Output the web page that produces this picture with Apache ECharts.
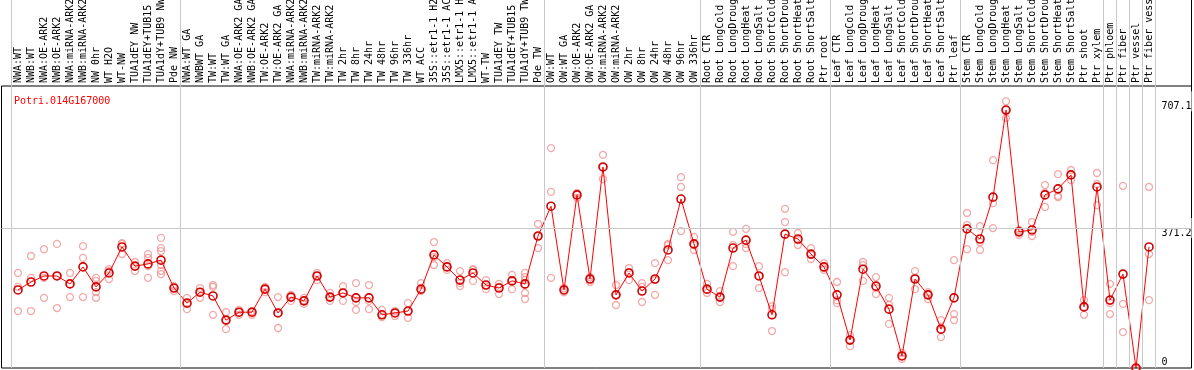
<!DOCTYPE html>
<html>
<head>
<meta charset="utf-8">
<script src="https://cdn.jsdelivr.net/npm/echarts@6/dist/echarts.min.js"></script>
<style>html,body{margin:0;padding:0;background:#fff;}#c{width:1194px;height:370px;}</style>
</head>
<body>
<div id="c"></div>
<script>
const title = 'Potri.014G167000';
const categories = [
 'NWA:WT','NWB:WT','NWA:OE-ARK2','NWB:OE-ARK2','NWA:miRNA-ARK2','NWB:miRNA-ARK2','NW 0hr','WT H2O','WT-NW','TUA1dEY NW','TUA1dEY+TUB15 NW','TUA1dY+TUB9 NW','Pde NW',
 'NWA:WT GA','NWBWT GA','TW:WT','TW:WT GA','NWA:OE-ARK2 GA','NWB:OE-ARK2 GA','TW:OE-ARK2','TW:OE-ARK2 GA','NWA:miRNA-ARK2 GA','NWB:miRNA-ARK2 GA','TW:miRNA-ARK2','TW:miRNA-ARK2 GA',
 'TW 2hr','TW 8hr','TW 24hr','TW 48hr','TW 96hr','TW 336hr','WT ACC','35S::etr1-1 H2O','35S::etr1-1 ACC','LMX5::etr1-1 H2O','LMX5::etr1-1 ACC','WT-TW','TUA1dEY TW','TUA1dEY+TUB15 TW','TUA1dY+TUB9 TW','Pde TW',
 'OW:WT','OW:WT GA','OW:OE-ARK2','OW:OE-ARK2 GA','OW:miRNA-ARK2','OW:miRNA-ARK2 GA','OW 2hr','OW 8hr','OW 24hr','OW 48hr','OW 96hr','OW 336hr',
 'Root CTR','Root LongCold','Root LongDrought','Root LongHeat','Root LongSalt','Root ShortCold','Root ShortDrought','Root ShortHeat','Root ShortSalt','Ptr root',
 'Leaf CTR','Leaf LongCold','Leaf LongDrought','Leaf LongHeat','Leaf LongSalt','Leaf ShortCold','Leaf ShortDrought','Leaf ShortHeat','Leaf ShortSalt','Ptr leaf',
 'Stem CTR','Stem LongCold','Stem LongDrought','Stem LongHeat','Stem LongSalt','Stem ShortCold','Stem ShortDrought','Stem ShortHeat','Stem ShortSalt','Ptr shoot','Ptr xylem',
 'Ptr phloem','Ptr fiber','Ptr vessel','Ptr fiber vessel'
];
const meanValues = [
 207,228,244,244,223,268,215,252,321,270,276,286,212,
 172,201,191,127,148,148,209,146,188,178,244,188,
 199,186,186,141,146,151,209,300,268,233,252,220,212,231,223,350,
 429,207,459,236,533,194,252,204,236,313,448,329,
 209,188,318,339,244,141,355,342,302,268,
 194,74,262,217,156,32,236,194,103,186,
 369,342,453,684,361,366,459,475,512,162,480,
 180,249,0,321
];
const replicates = [
 [252,215,151],[297,239,151],[315,239,186],[329,244,159],[252,223,188],[323,292,188],[239,231,201,186],[262,257,236],[331,329,302],[281,270,257],[302,292,270,239],[345,318,310,273,257,249],[217,212,204],
 [186,172,156],[212,201,186],[220,215,141],[148,127,103],[154,148,141],[151,148,141],[215,209,201],[188,146,106],[194,188,178],[186,180,170],[252,244,233],[199,188,178],
 [217,199,178],[225,175,154],[220,178,156],[154,141,135],[151,146,138],[172,151,133],[225,207,204],[334,294,273],[278,268,260],[257,225,217],[262,260,231],[233,220,209],[223,215,196],[247,233,209],[252,241,233,220,199,183],[382,350,318],
 [583,467,239],[212,207,201],[464,459,451],[241,236,228],[565,533,501],[220,194,167],[265,254,233],[225,215,175],[278,233,194],[329,326,286],[506,480,363],[347,326,313],
 [223,207,199],[204,188,175],[361,326,270],[369,329,318],[270,244,212],[164,156,98],[422,387,254],[358,339,326],[318,300,289],[278,265,260],
 [228,180,172],[87,74,58],[281,273,231],[241,212,196],[186,167,117],[40,32,24],[257,239,209],[201,194,183],[127,101,82],[286,143,127],
 [411,379,315],[376,334,313],[551,437,371],[707.1,684,663],[366,361,353],[387,361,350],[485,464,427],[514,456,453],[525,512,498],[180,162,141],[517,488,432],
 [223,172,143],[483,170,95],[0,0,0],[480,302,180]
];
const yTickValues = [0, 371.2, 707.1];
const midLine = 371.2;
const yMax = 742.4;
const groupBoundaries = [0, 13, 41, 53, 63, 73, 84, 85, 86, 87, 88];

const repData = [];
replicates.forEach((arr, i) => arr.forEach(v => repData.push([i, v])));

const FONT = 'DejaVu Sans Mono';
const GL = 11.5, GW = categories.length * 13;
// main plotting grid spans y 88..368, the black frame spans y 86..368
const PLOT_TOP = 88, FRAME_TOP = 86, BOTTOM = 2, H = 370;
const frameMax = yMax * (H - BOTTOM - FRAME_TOP) / (H - BOTTOM - PLOT_TOP);

const chart = echarts.init(document.getElementById('c'), null, {renderer: 'canvas'});
chart.setOption({
  animation: false,
  backgroundColor: '#fff',
  title: {
    text: title, left: 9, top: 91,
    textStyle: {color: '#ff0000', fontFamily: FONT, fontSize: 10, fontWeight: 'normal'}
  },
  grid: [
    {left: GL, width: GW, top: PLOT_TOP, bottom: BOTTOM, outerBoundsMode: 'none', containLabel: false},
    {left: 1.5, right: 2.5, top: FRAME_TOP, bottom: BOTTOM, outerBoundsMode: 'none', show: true, borderColor: '#000', borderWidth: 1, backgroundColor: 'transparent'},
    {left: GL, width: GW, top: 0, bottom: BOTTOM, outerBoundsMode: 'none'}
  ],
  xAxis: [
    {
      type: 'category', gridIndex: 0, data: categories, position: 'top', boundaryGap: true, offset: PLOT_TOP - FRAME_TOP,
      axisLine: {show: false}, axisTick: {show: false}, splitLine: {show: false},
      axisLabel: {interval: 0, rotate: 90, margin: 3, color: '#000', fontFamily: FONT, fontSize: 10, hideOverlap: false}
    },
    {type: 'value', gridIndex: 1, min: 0, max: 1, show: false},
    {type: 'value', gridIndex: 2, min: 0, max: categories.length, show: false}
  ],
  yAxis: [
    {
      type: 'value', gridIndex: 0, position: 'right', min: 0, max: yMax,
      axisLine: {show: false}, axisTick: {show: false}, splitLine: {show: false},
      axisLabel: {
        customValues: yTickValues, margin: 6, align: 'left', verticalAlign: 'middle',
        formatter: v => v === 0 ? '{b|0}' : '{t|' + v + '}',
        rich: {
          t: {fontFamily: FONT, fontSize: 10, color: '#000', padding: [10, 0, 0, 0], backgroundColor: '#fff'},
          b: {fontFamily: FONT, fontSize: 10, color: '#000', padding: [0, 0, 12, 0]}
        }
      }
    },
    {type: 'value', gridIndex: 1, min: 0, max: frameMax, show: false},
    {type: 'value', gridIndex: 2, min: 0, max: 1, show: false}
  ],
  series: [
    {
      type: 'line', xAxisIndex: 2, yAxisIndex: 2, data: [[0, 0]], showSymbol: false, silent: true,
      lineStyle: {width: 0}, z: 1,
      markLine: {
        silent: true, symbol: ['none', 'none'], label: {show: false},
        lineStyle: {color: '#c8c8c8', width: 1, type: 'solid'},
        data: groupBoundaries.map(b => ({xAxis: b}))
      }
    },
    {
      type: 'line', xAxisIndex: 1, yAxisIndex: 1, data: [[0, 0]], showSymbol: false, silent: true,
      lineStyle: {width: 0}, z: 1,
      markLine: {
        silent: true, symbol: ['none', 'none'], label: {show: false},
        lineStyle: {color: '#c8c8c8', width: 1, type: 'solid'},
        data: [{yAxis: midLine}]
      }
    },
    {
      type: 'scatter', xAxisIndex: 0, yAxisIndex: 0, data: repData, symbol: 'circle', symbolSize: 7,
      itemStyle: {color: 'rgba(0,0,0,0)', borderColor: '#f09595', borderWidth: 1.3}, z: 2
    },
    {
      type: 'line', xAxisIndex: 0, yAxisIndex: 0, data: meanValues, symbol: 'circle', symbolSize: 8,
      lineStyle: {color: '#ff0000', width: 1},
      itemStyle: {color: 'rgba(0,0,0,0)', borderColor: '#d00000', borderWidth: 1.6}, z: 3
    }
  ],
  graphic: [
    {type: 'line', shape: {x1: 1191.5, y1: 0, x2: 1191.5, y2: FRAME_TOP}, style: {stroke: '#000', lineWidth: 1}, z: 10}
  ]
});
</script>
</body>
</html>
